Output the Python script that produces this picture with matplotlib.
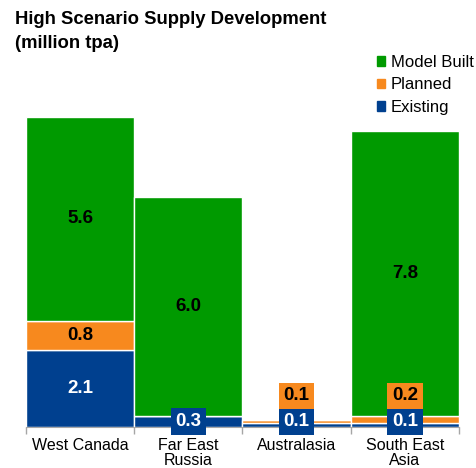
import matplotlib
matplotlib.use("Agg")
import matplotlib.pyplot as plt
from matplotlib.patches import Patch
import numpy as np

plt.rcParams['font.family'] = ['Liberation Sans', 'DejaVu Sans']

# Daten
regions = ['West Canada', 'Far East\nRussia', 'Australasia', 'South East\nAsia']
existing = [2.1, 0.3, 0.1, 0.1]
planned = [0.8, 0.0, 0.1, 0.2]
model_built = [5.6, 6.0, 0.0, 7.8]

# Farben
c_green = '#009A00'
c_orange = '#F7891E'
c_blue = '#00408F'
c_axis = '#A6A6A6'

fig = plt.figure(figsize=(4.77, 4.68), dpi=100)
ax = fig.add_axes([26 / 477, 1 - 427 / 468, (459 - 26) / 477, (427 - 60) / 468])

x = np.arange(len(regions))
existing = np.array(existing)
planned = np.array(planned)
model_built = np.array(model_built)

ax.bar(x, existing, width=1.0, color=c_blue, edgecolor='white', linewidth=1)
ax.bar(x, planned, width=1.0, bottom=existing, color=c_orange, edgecolor='white', linewidth=1)
ax.bar(x, model_built, width=1.0, bottom=existing + planned, color=c_green,
       edgecolor='white', linewidth=1)

# Beschriftungen
for i in x:
    segs = [(existing[i], 0.0, c_blue, 'white'),
            (planned[i], existing[i], c_orange, 'black'),
            (model_built[i], existing[i] + planned[i], c_green, 'black')]
    small_slot = [0.15, 0.85]
    for k, (val, bot, col, tcol) in enumerate(segs):
        if val <= 0:
            continue
        if val >= 0.5:
            ax.text(i, bot + val / 2, f'{val:.1f}', ha='center', va='center',
                    color=tcol, fontsize=13.5, fontweight='bold')
        else:
            ax.text(i, small_slot[min(k, 1)], f'{val:.1f}', ha='center', va='center',
                    color=tcol, fontsize=13.5, fontweight='bold',
                    bbox=dict(boxstyle='square,pad=0.25', facecolor=col, edgecolor='none'))

ax.set_xlim(-0.5, 3.5)
ax.set_ylim(0, 10.05)
ax.set_xticks(x)
ax.set_xticklabels(regions, fontsize=11.5, linespacing=1.0)
ax.set_xticks(np.arange(-0.5, 4.0, 1.0), minor=True)
ax.tick_params(axis='x', which='major', length=0, pad=8)
ax.tick_params(axis='x', which='minor', length=5, color=c_axis, width=1)
ax.set_yticks([])
for s in ['top', 'right', 'left']:
    ax.spines[s].set_visible(False)
ax.spines['bottom'].set_color(c_axis)
ax.set_facecolor('none')

fig.text(15 / 477, 1 - 20 / 468, 'High Scenario Supply Development', fontsize=13.3,
         fontweight='bold', va='center', ha='left')
fig.text(15 / 477, 1 - 43 / 468, '(million tpa)', fontsize=13.3,
         fontweight='bold', va='center', ha='left')

handles = [Patch(color=c_green, label='Model Built'),
           Patch(color=c_orange, label='Planned'),
           Patch(color=c_blue, label='Existing')]
fig.legend(handles=handles, loc='upper left', bbox_to_anchor=(370 / 477, 1 - 48 / 468),
           frameon=False, fontsize=12, handlelength=0.5, handleheight=0.5,
           handletextpad=0.35, labelspacing=0.45, borderaxespad=0)

fig.savefig('out.png', dpi=100)
